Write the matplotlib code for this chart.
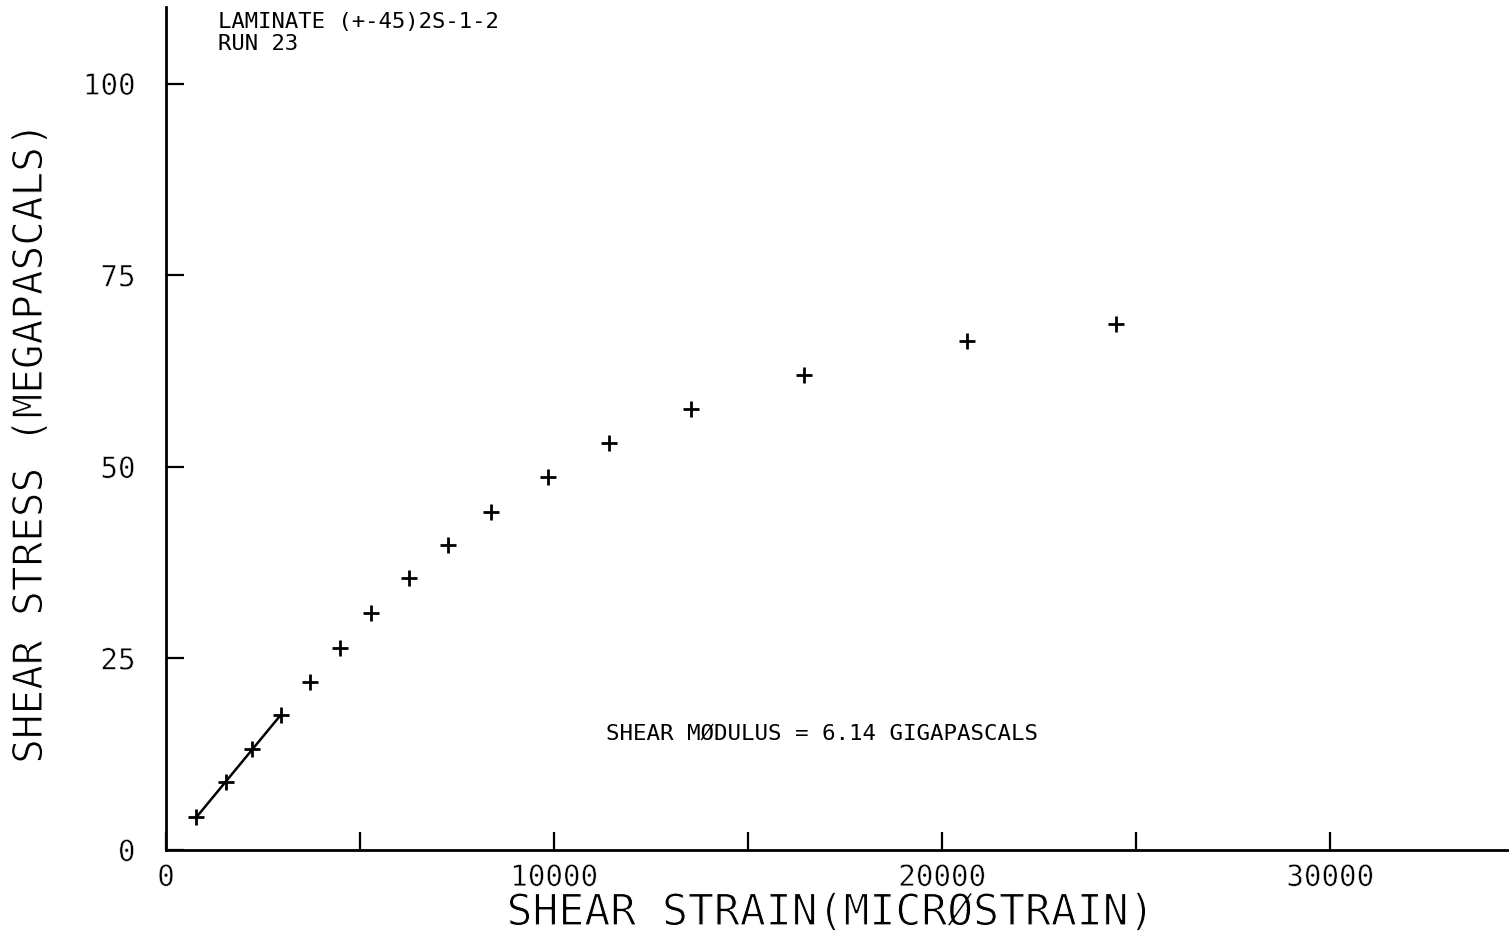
import numpy as np
import matplotlib
matplotlib.use("Agg")
import matplotlib.pyplot as plt
import matplotlib.patheffects as pe

# Shear test data, laminate (+-45)2S-1-2, run 23
strain_microstrain = [778, 1557, 2206, 2959, 3711, 4490, 5294, 6253, 7263,
                      8376, 9852, 11405, 13523, 16441, 20647, 24490]
stress_mpa = [4.28, 8.83, 13.12, 17.67, 21.95, 26.37, 30.91, 35.45, 39.86,
              44.13, 48.66, 53.05, 57.55, 62.04, 66.48, 68.58]

shear_modulus_gpa = 6.14
n_fit = 4  # points used for the modulus line

x_ticks = [0, 10000, 20000, 30000]
x_minor = [5000, 15000, 25000]
y_ticks = [0, 25, 50, 75, 100]

mono = "DejaVu Sans Mono"
# slightly thin the glyph strokes to look like a pen-plotter font
thin_big = [pe.Stroke(linewidth=0.8, foreground="white")]
thin_small = [pe.Stroke(linewidth=0.4, foreground="white")]

fig = plt.figure(figsize=(15.09, 9.36), dpi=100)
ax = fig.add_axes([0.110, 0.0919, 0.890, 0.9006])

ax.set_xlim(0, 34610)
ax.set_ylim(0, 110)

for side in ("top", "right"):
    ax.spines[side].set_visible(False)
for side in ("left", "bottom"):
    ax.spines[side].set_linewidth(2.0)

ax.set_xticks(x_ticks + x_minor)
ax.set_xticklabels([str(v) for v in x_ticks] + [""] * len(x_minor))
ax.set_yticks(y_ticks)
ax.set_yticklabels([str(v) for v in y_ticks])
ax.tick_params(axis="both", direction="in", length=13, width=1.6,
               labelsize=21, colors="black")
ax.tick_params(axis="y", pad=22)
ax.tick_params(axis="x", pad=10)
for lab in ax.get_xticklabels() + ax.get_yticklabels():
    lab.set_family(mono)
    lab.set_path_effects(thin_small)

# data points
ax.plot(strain_microstrain, stress_mpa, linestyle="none", marker="+",
        markersize=12, markeredgewidth=2.0, color="black")

# modulus line through the first points, slope = shear modulus
xs = np.array(strain_microstrain[:n_fit], dtype=float)
ys = np.array(stress_mpa[:n_fit], dtype=float)
slope = shear_modulus_gpa * 1e3 * 1e-6  # MPa per microstrain
intercept = ys.mean() - slope * xs.mean()
xl = np.array([xs.min(), xs.max()])
ax.plot(xl, slope * xl + intercept, color="black", linewidth=1.8)

ax.set_xlabel("SHEAR STRAIN(MICRØSTRAIN)", fontsize=31, family=mono,
              va="center", path_effects=thin_big)
ax.xaxis.set_label_coords(0.4944, -0.0747)
ax.set_ylabel("SHEAR STRESS (MEGAPASCALS)", fontsize=29.5, family=mono,
              va="center", path_effects=thin_big)
ax.yaxis.set_label_coords(-0.1005, 0.482)

ax.text(0.0387, 0.994, "LAMINATE (+-45)2S-1-2\nRUN 23", transform=ax.transAxes,
        ha="left", va="top", family=mono, fontsize=16, linespacing=1.15)
ax.text(0.328, 0.138, "SHEAR MØDULUS = %.2f GIGAPASCALS" % shear_modulus_gpa,
        transform=ax.transAxes, ha="left", va="center", family=mono,
        fontsize=16.2)

fig.savefig("out.png", dpi=100)
